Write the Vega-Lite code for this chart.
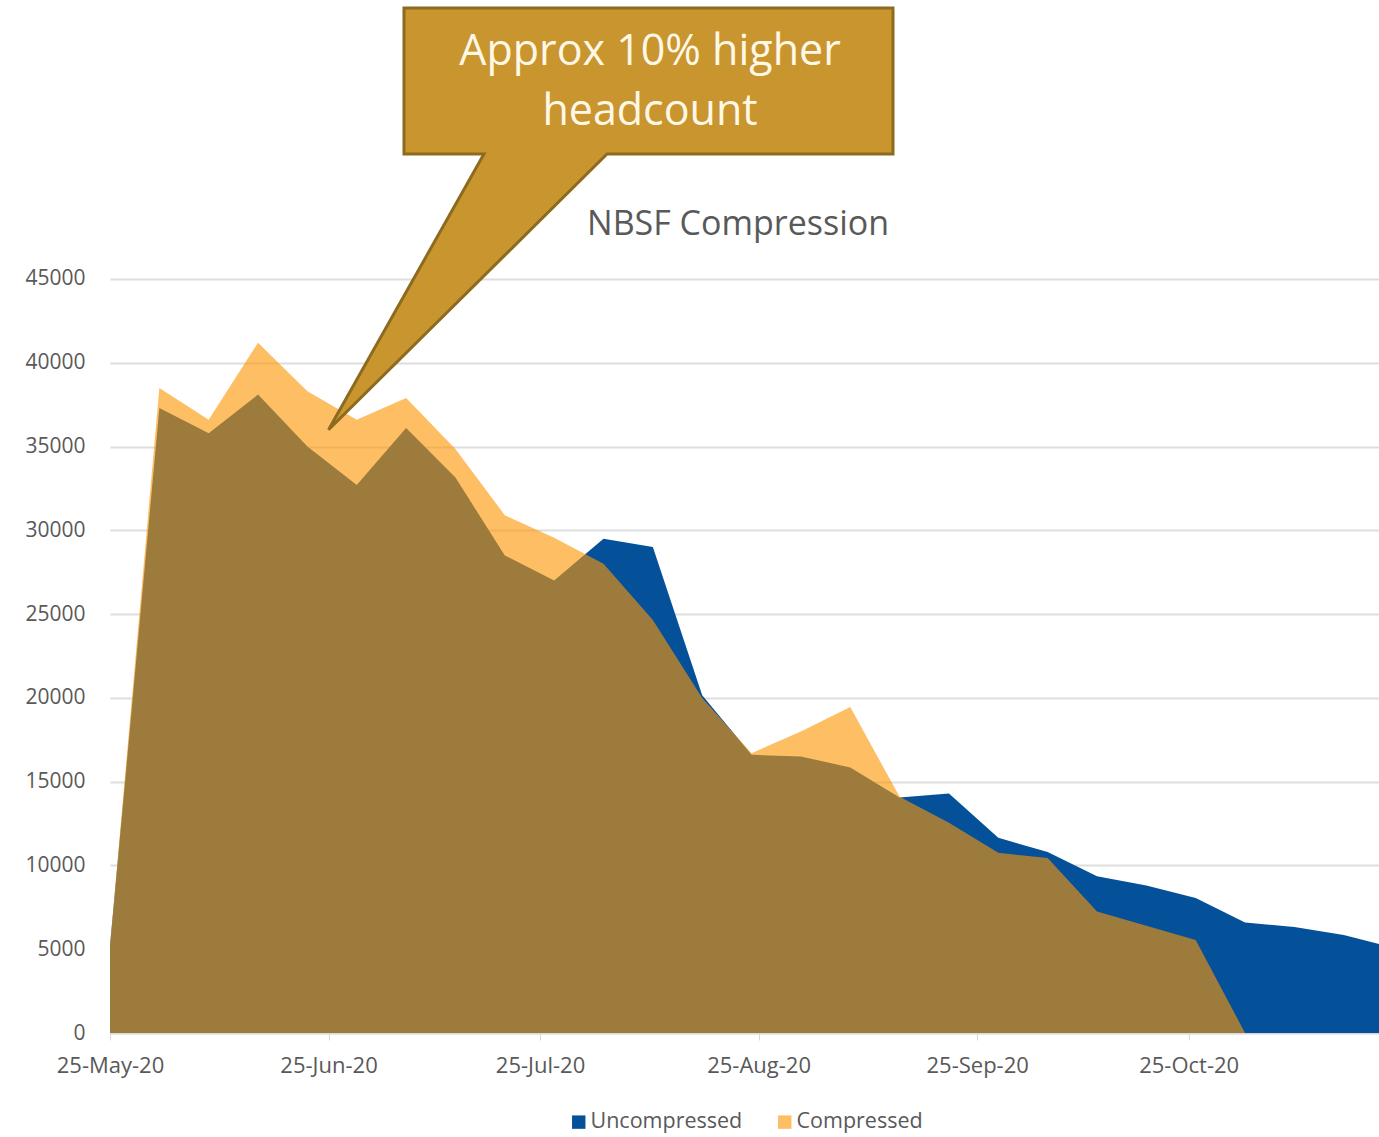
{
  "$schema": "https://vega.github.io/schema/vega-lite/v6.json",
  "width": 1269,
  "height": 1033,
  "padding": {"left": 110, "top": 0, "right": 0, "bottom": 104},
  "autosize": {"type": "none"},
  "background": "white",
  "config": {
    "view": {"stroke": null},
    "font": "Open Sans",
    "legend": {
      "orient": "none",
      "legendX": 458,
      "legendY": 1111,
      "direction": "horizontal",
      "padding": 0,
      "symbolType": "square",
      "symbolSize": 180,
      "symbolStrokeWidth": 0,
      "labelFontSize": 21.5,
      "labelColor": "#595959",
      "labelOffset": 1,
      "columnPadding": 31
    }
  },
  "datasets": {
    "headcount": [
      {"date": "2020-05-25", "series": "Uncompressed", "value": 5200},
      {"date": "2020-06-01", "series": "Uncompressed", "value": 37300},
      {"date": "2020-06-08", "series": "Uncompressed", "value": 35800},
      {"date": "2020-06-15", "series": "Uncompressed", "value": 38100},
      {"date": "2020-06-22", "series": "Uncompressed", "value": 35000},
      {"date": "2020-06-29", "series": "Uncompressed", "value": 32700},
      {"date": "2020-07-06", "series": "Uncompressed", "value": 36100},
      {"date": "2020-07-13", "series": "Uncompressed", "value": 33150},
      {"date": "2020-07-20", "series": "Uncompressed", "value": 28500},
      {"date": "2020-07-27", "series": "Uncompressed", "value": 27000},
      {"date": "2020-08-03", "series": "Uncompressed", "value": 29500},
      {"date": "2020-08-10", "series": "Uncompressed", "value": 29000},
      {"date": "2020-08-17", "series": "Uncompressed", "value": 20150},
      {"date": "2020-08-24", "series": "Uncompressed", "value": 16600},
      {"date": "2020-08-31", "series": "Uncompressed", "value": 16500},
      {"date": "2020-09-07", "series": "Uncompressed", "value": 15850},
      {"date": "2020-09-14", "series": "Uncompressed", "value": 14050},
      {"date": "2020-09-21", "series": "Uncompressed", "value": 14300},
      {"date": "2020-09-28", "series": "Uncompressed", "value": 11650},
      {"date": "2020-10-05", "series": "Uncompressed", "value": 10800},
      {"date": "2020-10-12", "series": "Uncompressed", "value": 9350},
      {"date": "2020-10-19", "series": "Uncompressed", "value": 8800},
      {"date": "2020-10-26", "series": "Uncompressed", "value": 8050},
      {"date": "2020-11-02", "series": "Uncompressed", "value": 6600},
      {"date": "2020-11-09", "series": "Uncompressed", "value": 6330},
      {"date": "2020-11-16", "series": "Uncompressed", "value": 5850},
      {"date": "2020-11-23", "series": "Uncompressed", "value": 5100},
      {"date": "2020-05-25", "series": "Compressed", "value": 5200},
      {"date": "2020-06-01", "series": "Compressed", "value": 38500},
      {"date": "2020-06-08", "series": "Compressed", "value": 36600},
      {"date": "2020-06-15", "series": "Compressed", "value": 41200},
      {"date": "2020-06-22", "series": "Compressed", "value": 38300},
      {"date": "2020-06-29", "series": "Compressed", "value": 36600},
      {"date": "2020-07-06", "series": "Compressed", "value": 37900},
      {"date": "2020-07-13", "series": "Compressed", "value": 34850},
      {"date": "2020-07-20", "series": "Compressed", "value": 30900},
      {"date": "2020-07-27", "series": "Compressed", "value": 29550},
      {"date": "2020-08-03", "series": "Compressed", "value": 28000},
      {"date": "2020-08-10", "series": "Compressed", "value": 24650},
      {"date": "2020-08-17", "series": "Compressed", "value": 20000},
      {"date": "2020-08-24", "series": "Compressed", "value": 16700},
      {"date": "2020-08-31", "series": "Compressed", "value": 18000},
      {"date": "2020-09-07", "series": "Compressed", "value": 19450},
      {"date": "2020-09-14", "series": "Compressed", "value": 14100},
      {"date": "2020-09-21", "series": "Compressed", "value": 12550},
      {"date": "2020-09-28", "series": "Compressed", "value": 10750},
      {"date": "2020-10-05", "series": "Compressed", "value": 10450},
      {"date": "2020-10-12", "series": "Compressed", "value": 7250},
      {"date": "2020-10-19", "series": "Compressed", "value": 6400},
      {"date": "2020-10-26", "series": "Compressed", "value": 5550},
      {"date": "2020-11-02", "series": "Compressed", "value": 0},
      {"date": "2020-11-09", "series": "Compressed", "value": 0},
      {"date": "2020-11-16", "series": "Compressed", "value": 0},
      {"date": "2020-11-23", "series": "Compressed", "value": 0}
    ],
    "callout": [
      {"step": 1, "date": "2020-07-05T16:48:00Z", "value": 61170},
      {"step": 2, "date": "2020-09-13T01:30:00Z", "value": 61170},
      {"step": 3, "date": "2020-09-13T01:30:00Z", "value": 52460},
      {"step": 4, "date": "2020-08-03T12:00:00Z", "value": 52460},
      {"step": 5, "date": "2020-06-25T00:00:00Z", "value": 36000},
      {"step": 6, "date": "2020-07-17T01:00:00Z", "value": 52460},
      {"step": 7, "date": "2020-07-05T16:48:00Z", "value": 52460}
    ],
    "calloutText": [
      {"date": "2020-08-09T14:18:00Z", "value": 57770, "label": "Approx 10% higher\nheadcount"}
    ],
    "chartTitle": [
      {"date": "2020-08-22T02:00:00Z", "value": 47625, "label": "NBSF Compression"}
    ]
  },
  "encoding": {
    "x": {
      "field": "date",
      "type": "temporal",
      "scale": {
        "type": "utc",
        "nice": false,
        "domain": [
          {"year": 2020, "month": 5, "date": 25, "utc": true},
          {"year": 2020, "month": 11, "date": 21, "utc": true}
        ]
      },
      "axis": {
        "title": null,
        "grid": false,
        "values": [
          {"year": 2020, "month": 5, "date": 25, "utc": true},
          {"year": 2020, "month": 6, "date": 25, "utc": true},
          {"year": 2020, "month": 7, "date": 25, "utc": true},
          {"year": 2020, "month": 8, "date": 25, "utc": true},
          {"year": 2020, "month": 9, "date": 25, "utc": true},
          {"year": 2020, "month": 10, "date": 25, "utc": true}
        ],
        "format": "%d-%b-%y",
        "labelFlush": false,
        "labelOverlap": false,
        "domainColor": "#d9d9d9",
        "domainWidth": 1.5,
        "tickColor": "#d9d9d9",
        "tickSize": 7,
        "labelFontSize": 22,
        "labelColor": "#595959",
        "labelPadding": 15
      }
    },
    "y": {
      "field": "value",
      "type": "quantitative",
      "stack": null,
      "scale": {"domain": [0, 61650], "nice": false, "zero": true},
      "axis": {
        "title": null,
        "values": [0, 5000, 10000, 15000, 20000, 25000, 30000, 35000, 40000, 45000],
        "format": "d",
        "domain": false,
        "ticks": false,
        "tickSize": 0,
        "grid": true,
        "gridColor": "#dedede",
        "gridWidth": 2,
        "labelFontSize": 21,
        "labelColor": "#595959",
        "labelPadding": 25
      }
    }
  },
  "layer": [
    {
      "data": {"name": "headcount"},
      "transform": [{"filter": "datum.series === 'Uncompressed'"}],
      "mark": {"type": "area", "clip": true, "interpolate": "linear"},
      "encoding": {
        "color": {
          "field": "series",
          "type": "nominal",
          "scale": {"domain": ["Uncompressed", "Compressed"], "range": ["#04519a", "#fc9503"]},
          "legend": {"title": null}
        },
        "opacity": {
          "field": "series",
          "type": "nominal",
          "scale": {"domain": ["Uncompressed", "Compressed"], "range": [1, 0.615]},
          "legend": {"title": null}
        }
      }
    },
    {
      "data": {"name": "headcount"},
      "transform": [{"filter": "datum.series === 'Compressed'"}],
      "mark": {"type": "area", "clip": true, "interpolate": "linear"},
      "encoding": {
        "color": {"field": "series", "type": "nominal", "legend": {"title": null}},
        "opacity": {"field": "series", "type": "nominal", "legend": {"title": null}}
      }
    },
    {
      "data": {"name": "callout"},
      "mark": {
        "type": "line",
        "interpolate": "linear-closed",
        "fill": "#c9952f",
        "stroke": "#8c6b1e",
        "strokeWidth": 3,
        "strokeJoin": "miter"
      },
      "encoding": {
        "order": {"field": "step", "type": "quantitative"}
      }
    },
    {
      "data": {"name": "calloutText"},
      "mark": {
        "type": "text",
        "align": "center",
        "baseline": "alphabetic",
        "lineBreak": "\n",
        "fontSize": 43,
        "lineHeight": 60,
        "color": "#fff8e7"
      },
      "encoding": {
        "text": {"field": "label", "type": "nominal"}
      }
    },
    {
      "data": {"name": "chartTitle"},
      "mark": {
        "type": "text",
        "align": "center",
        "baseline": "alphabetic",
        "fontSize": 34,
        "color": "#595959"
      },
      "encoding": {
        "text": {"field": "label", "type": "nominal"}
      }
    }
  ]
}
